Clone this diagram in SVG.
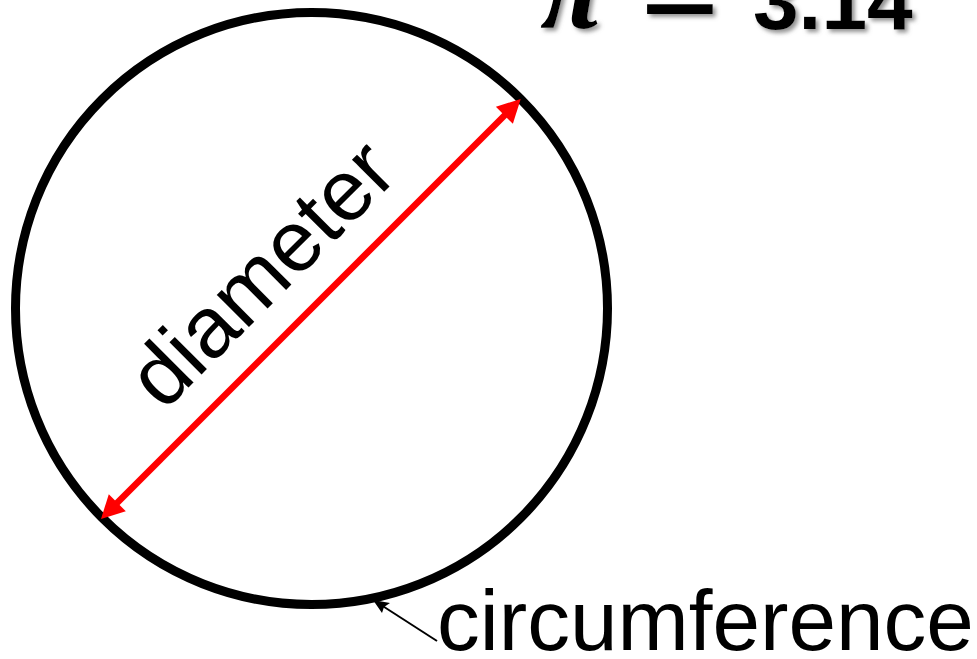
<svg xmlns="http://www.w3.org/2000/svg" width="977" height="659" viewBox="0 0 977 659">
<style>
.lbl{font-family:"Liberation Sans",Arial,sans-serif;fill:#000}
.red{fill:#ff0000}
</style>
<defs>
<filter id="shadow" x="-10%" y="-50%" width="130%" height="200%">
<feDropShadow dx="3" dy="3" stdDeviation="2" flood-color="#777" flood-opacity="0.8"/>
</filter>
</defs>
<rect width="977" height="659" fill="#fff"/>
<g id="circle">
<circle cx="311.5" cy="308.5" r="296" fill="none" stroke="#000" stroke-width="9"/>
</g>
<g id="connectors">
<line x1="114" y1="506" x2="508" y2="112" stroke="#ff0000" stroke-width="6.5"/>
<path class="red" d="M520.7,99 L512.9,123.8 L495.9,106.8 Z"/>
<path class="red" d="M101,519 L108.8,494.2 L125.8,511.2 Z"/>
<line x1="437" y1="641" x2="378" y2="603" stroke="#000" stroke-width="2"/>
<path d="M373,600 L390,603 L384,607 L382,613 Z" fill="#000"/>
</g>
<g id="diameter-label">
<text class="lbl" x="282" y="294" font-size="86" text-anchor="middle" transform="rotate(-45 282 294)">diameter</text>
</g>
<g id="circumference-label">
<text class="lbl" x="437" y="650" font-size="85.5">circumference</text>
</g>
<g id="pi-formula" filter="url(#shadow)">
<text x="540" y="28" font-family="'Liberation Serif',serif" font-weight="bold" font-style="italic" font-size="116">π</text>
<text x="680" y="37" font-family="'Liberation Sans',sans-serif" font-size="135" text-anchor="middle">=</text>
<text x="753" y="29" font-family="'Liberation Sans',sans-serif" font-weight="bold" font-size="82">3.14</text>
</g>
</svg>
